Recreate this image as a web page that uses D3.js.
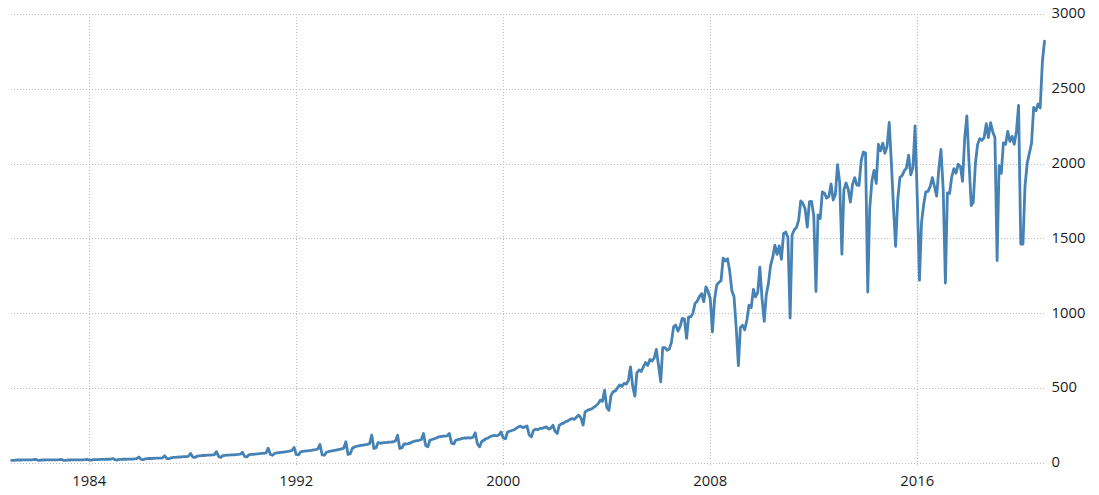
<!DOCTYPE html>
<html>
<head>
<meta charset="utf-8">
<script src="https://cdn.jsdelivr.net/npm/d3@7"></script>
<style>
  html, body { margin: 0; padding: 0; background: #ffffff; }
  svg { display: block; }
  text { font-family: "Open Sans", "Noto Sans", "Liberation Sans", sans-serif; font-size: 14.8px; fill: #1a1a1a; }
</style>
</head>
<body>
<svg id="chart" width="1099" height="495"></svg>
<script>
// Monthly values, Jan 1981 .. Dec 2020 (one row per year)
const startYear = 1981;
const values = [
  16,15,17,18,18,19,19,19,19,19,20,23,
  17,16,18,18,19,19,19,19,19,19,20,22,
  16,15,18,18,19,19,19,19,19,19,20,23,
  18,17,20,21,21,22,22,22,23,23,24,28,
  19,18,22,22,23,23,24,24,24,25,27,38,
  22,20,26,27,28,28,29,30,30,31,33,46,
  28,26,33,35,36,37,38,39,40,41,43,62,
  38,35,44,46,47,48,49,50,51,52,54,74,
  40,36,47,49,50,51,52,53,54,55,57,70,
  42,38,52,55,56,58,59,60,62,63,66,97,
  55,50,62,65,67,69,71,73,75,78,82,102,
  55,52,72,75,77,79,81,83,86,88,92,122,
  52,50,70,74,77,80,83,86,89,92,97,140,
  55,60,95,105,110,113,116,118,120,123,128,185,
  95,100,135,130,132,134,135,137,138,140,145,184,
  95,100,125,125,128,132,140,145,148,150,155,195,
  115,106,150,155,160,165,172,175,178,178,180,195,
  130,125,150,155,158,162,165,165,168,165,170,200,
  125,106,140,150,160,165,175,180,182,180,185,206,
  165,160,205,210,215,220,230,240,245,235,240,245,
  185,173,215,225,220,230,230,235,240,225,230,250,
  210,195,250,260,265,275,280,290,295,290,305,318,
  300,251,340,350,355,360,370,380,395,418,410,485,
  370,350,450,475,480,500,520,510,530,525,550,641,
  510,445,600,620,610,640,670,650,690,680,700,757,
  650,541,770,770,752,760,803,908,920,880,910,965,
  960,831,975,975,1000,1065,1080,1110,1130,1076,1176,1145,
  1096,875,1090,1187,1205,1217,1367,1349,1364,1283,1149,1112,
  904,649,903,919,888,954,1054,1037,1159,1108,1137,1307,
  1095,945,1121,1199,1318,1374,1455,1393,1449,1360,1533,1542,
  1507,967,1522,1557,1572,1620,1751,1733,1697,1575,1745,1747,
  1650,1145,1657,1633,1811,1802,1769,1779,1864,1756,1794,1992,
  1874,1394,1822,1870,1828,1743,1860,1906,1856,1854,2022,2077,
  2071,1141,1701,1885,1955,1868,2129,2085,2137,2069,2116,2275,
  2000,1692,1446,1763,1908,1919,1951,1969,2056,1924,1973,2252,
  1774,1220,1605,1728,1811,1814,1846,1906,1845,1782,1969,2094,
  1828,1201,1804,1800,1910,1966,1936,1996,1981,1882,2174,2318,
  2002,1719,1741,2002,2126,2167,2155,2173,2267,2174,2274,2213,
  2175,1352,1986,1935,2138,2129,2215,2148,2182,2129,2217,2389,
  1462,1462,1851,2003,2068,2136,2376,2353,2398,2372,2681,2819
];
const xTickYears = [1984, 1992, 2000, 2008, 2016];
const yTicks = [0, 500, 1000, 1500, 2000, 2500, 3000];

const data = values.map((v, i) => ({ date: new Date(startYear + Math.floor(i / 12), i % 12, 1), value: v }));

const svg = d3.select("#chart");
const x = d3.scaleTime()
  .domain([new Date(1981, 0, 1), new Date(2020, 11, 1)])
  .range([11.7, 1044.5]);
const y = d3.scaleLinear().domain([0, 3000]).range([462.7, 14]);

const grid = svg.append("g");
// horizontal gridlines
grid.selectAll("line.h").data(yTicks).enter().append("line")
  .attr("x1", 11).attr("x2", 1045)
  .attr("y1", d => Math.round(y(d)) + 0.5).attr("y2", d => Math.round(y(d)) + 0.5)
  .attr("stroke", "#bdbdbd").attr("stroke-width", 1).attr("stroke-dasharray", "1,2");
// vertical gridlines
grid.selectAll("line.v").data(xTickYears).enter().append("line")
  .attr("x1", d => Math.round(x(new Date(d, 0, 1))) + 0.5)
  .attr("x2", d => Math.round(x(new Date(d, 0, 1))) + 0.5)
  .attr("y1", 14).attr("y2", 466)
  .attr("stroke", "#bdbdbd").attr("stroke-width", 1).attr("stroke-dasharray", "1,2");

// y labels (right side)
svg.append("g").selectAll("text").data(yTicks).enter().append("text")
  .attr("x", 1051.5).attr("y", d => y(d) + 0.5)
  .attr("text-anchor", "start").attr("dominant-baseline", "middle")
  .text(d => d);

// x labels
svg.append("g").selectAll("text").data(xTickYears).enter().append("text")
  .attr("x", d => x(new Date(d, 0, 1)))
  .attr("y", 482)
  .attr("text-anchor", "middle").attr("dominant-baseline", "middle")
  .text(d => d);

// line
const line = d3.line().x(d => x(d.date)).y(d => y(d.value));
svg.append("path").datum(data)
  .attr("d", line)
  .attr("fill", "none")
  .attr("stroke", "#4682b4")
  .attr("stroke-width", 2.8)
  .attr("stroke-linejoin", "round")
  .attr("stroke-linecap", "round");
</script>
</body>
</html>
